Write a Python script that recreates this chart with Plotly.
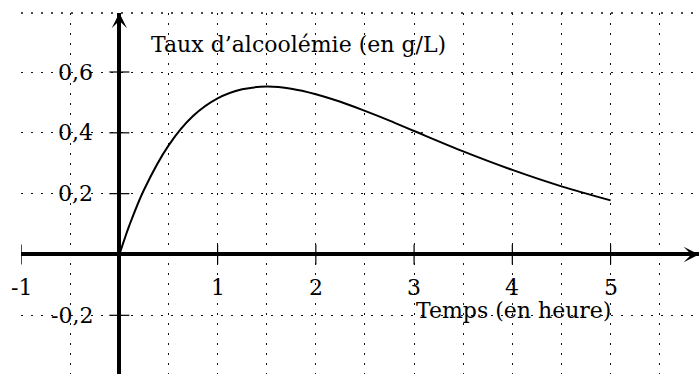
import plotly.graph_objects as go

# temps (h) et taux d'alcoolémie (g/L)
temps = [0, 0.05, 0.1, 0.25, 0.5, 0.75, 1, 1.25, 1.5, 1.75, 2, 2.25, 2.5, 2.75, 3, 3.5, 4, 4.5, 5]
taux = [0, 0.048, 0.094, 0.212, 0.358, 0.455, 0.513, 0.543, 0.552, 0.545, 0.527, 0.502, 0.472,
        0.440, 0.406, 0.339, 0.278, 0.224, 0.178]

x_ticks = [-1, 1, 2, 3, 4, 5]
x_labels = ["-1", "1", "2", "3", "4", "5"]
y_ticks = [-0.2, 0.2, 0.4, 0.6]
y_labels = ["-0,2", "0,2", "0,4", "0,6"]

font = dict(family="DejaVu Serif", size=22, color="black")
grid_dash = "2px,8px"

fig = go.Figure()
fig.add_trace(go.Scatter(x=temps, y=taux, mode="lines", line=dict(color="black", width=2, shape="spline"),
                         hoverinfo="skip", showlegend=False))

shapes = []
# petites graduations de part et d'autre des axes
for v in x_ticks:
    shapes.append(dict(type="line", xref="x", yref="y", x0=v, x1=v, ysizemode="pixel", yanchor=0,
                       y0=-10, y1=10, line=dict(color="black", width=1.2)))
for v in y_ticks:
    shapes.append(dict(type="line", xref="x", yref="y", y0=v, y1=v, xsizemode="pixel", xanchor=0,
                       x0=-10, x1=10, line=dict(color="black", width=1.2)))
# bord supérieur du quadrillage
shapes.append(dict(type="line", xref="paper", yref="paper", x0=0, x1=1, y0=1, y1=1,
                   line=dict(color="#111", width=1.4, dash=grid_dash)))

annotations = []
for v, t in zip(x_ticks, x_labels):
    annotations.append(dict(x=v, y=0, text=t, showarrow=False, yshift=-33, font=font))
for v, t in zip(y_ticks, y_labels):
    annotations.append(dict(x=0, y=v, text=t, showarrow=False, xanchor="right", xshift=-24, font=font))

annotations += [
    dict(x=0.3, y=0.69, text="Taux d’alcoolémie (en g/L)", showarrow=False, xanchor="left", font=font),
    dict(x=3.0, y=-0.185, text="Temps (en heure)", showarrow=False, xanchor="left", font=font),
    # flèches des axes
    dict(x=0, y=0.794, ax=0, ay=30, text="", showarrow=True, arrowhead=3, arrowsize=0.8,
         arrowwidth=3.2, arrowcolor="black", standoff=0),
    dict(x=5.9, y=0, ax=-30, ay=0, text="", showarrow=True, arrowhead=3, arrowsize=0.8,
         arrowwidth=3.2, arrowcolor="black", standoff=0),
]

fig.update_layout(
    width=699, height=374,
    margin=dict(l=21, r=0, t=13, b=0),
    plot_bgcolor="white", paper_bgcolor="white",
    shapes=shapes, annotations=annotations,
    xaxis=dict(range=[-1.001, 5.9], tick0=-1, dtick=0.5, showgrid=True, gridcolor="#111", gridwidth=1.4,
               griddash=grid_dash, zeroline=True, zerolinecolor="black", zerolinewidth=3.5,
               showticklabels=False, ticks="", showline=False, fixedrange=True),
    yaxis=dict(range=[-0.393, 0.794], tick0=0, dtick=0.2, showgrid=True, gridcolor="#111", gridwidth=1.4,
               griddash=grid_dash, zeroline=True, zerolinecolor="black", zerolinewidth=3.5,
               showticklabels=False, ticks="", showline=False, fixedrange=True),
)

fig.write_html("out.html", config={"displayModeBar": False},
               post_script="document.body.style.margin='0';")
